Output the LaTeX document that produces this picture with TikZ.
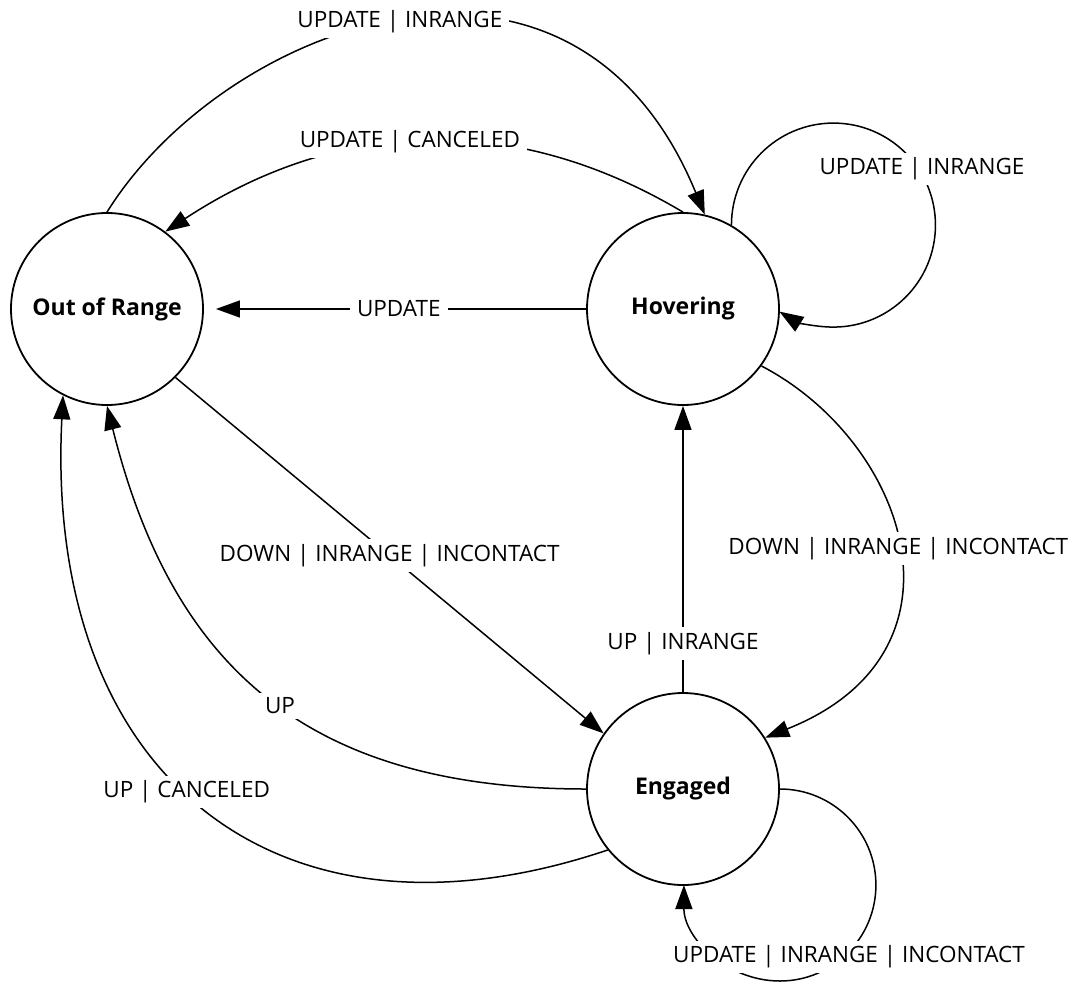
\documentclass[tikz,border=0pt]{standalone}
\usepackage{fontspec}
\setmainfont{Open Sans}
\usetikzlibrary{arrows.meta}
\begin{document}
\begin{tikzpicture}[x=1pt,y=-1pt,
  state/.style={circle, draw, line width=1.8pt, minimum size=192pt, inner sep=0pt,
    font=\fontsize{23}{27}\selectfont\bfseries},
  conn/.style={line width=1.5pt, -{Triangle[length=24pt,width=17pt]}},
  lbl/.style={fill=white, inner xsep=7pt, inner ysep=5pt, font=\fontsize{22.5}{27}\selectfont}]
\useasboundingbox (0,0) rectangle (1075,985);

\node[state] (oor) at (107,309) {Out of Range};
\node[state] (hov) at (683,309) {Hovering};
\node[state] (eng) at (683,789) {Engaged};

\draw[conn] (oor.90) .. controls +(117,-188) and +(-133,-323) .. node[lbl,pos=0.5]{UPDATE | INRANGE} (hov.77);
\draw[conn] (hov.90) .. controls +(-190,-113) and +(152,-100) .. node[lbl,pos=0.5]{UPDATE | CANCELED} (oor.53);
\draw[conn, shorten >=12pt] (hov.180) -- node[lbl,pos=0.49]{UPDATE} (oor.0);
\draw[conn] (hov.60) arc[start angle=180, end angle=-122, radius=102pt];
\node[lbl] (l4) at (922,169) {UPDATE | INRANGE};
\draw[conn] (hov.-36) .. controls +(146,76) and +(214,-85) .. node[lbl,pos=0.5]{DOWN | INRANGE | INCONTACT} (eng.32);
\draw[conn] (eng.90) -- node[lbl,pos=0.17]{UP | INRANGE} (hov.-90);
\draw[conn] (oor.-45) -- node[lbl,pos=0.5]{DOWN | INRANGE | INCONTACT} (eng.145);
\draw[conn] (eng.180) .. controls +(-280,0) and +(65,260) .. node[lbl,pos=0.47]{UP} (oor.-90);
\draw[conn] (eng.219) .. controls +(-332,112) and +(-19,380) .. node[lbl,pos=0.53]{UP | CANCELED} (oor.-117);
\draw[conn] (eng.0) arc[start angle=90, end angle=-180, radius=96pt];
\node[lbl] (l10) at (849,957) {UPDATE | INRANGE | INCONTACT};
\end{tikzpicture}
\end{document}
